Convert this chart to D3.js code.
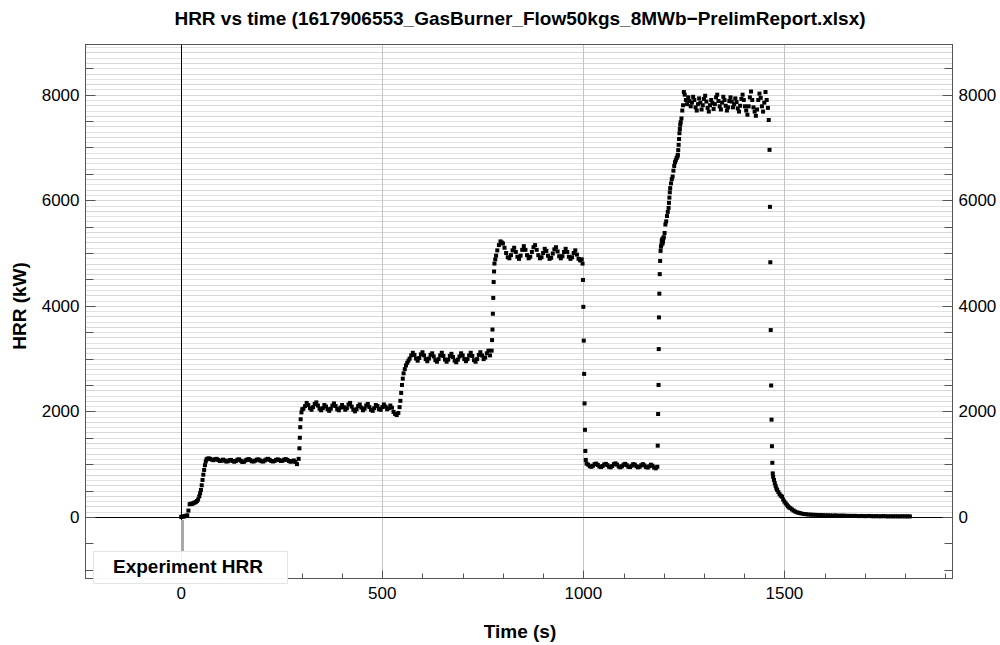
<!DOCTYPE html>
<html>
<head>
<meta charset="utf-8">
<script src="https://cdn.jsdelivr.net/npm/d3@7"></script>
<style>
  body { margin: 0; background: white; }
  text { font-family: "Liberation Sans", Arial, sans-serif; }
</style>
</head>
<body>
<div id="chart-area"></div>
<script>
// [time (s), HRR (kW)], one array per test phase
var rampUp1 = [[0,0],[3,10],[6,5],[9,15],[12,20],[15,30],[18,120],[21,240],[24,250],[27,245],[30,260],[33,270],[36,280],[39,300],[42,330],[45,390],[47,450],[49,510],[51,600],[53,700],[55,800],[57,890],[59,980],[61,1050],[63,1090],[65,1100]];
var plateau1 = [[68,1110],[72,1100],[76,1085],[80,1075],[84,1090],[88,1100],[92,1080],[96,1060],[100,1065],[104,1085],[108,1070],[112,1050],[116,1055],[120,1075],[124,1080],[128,1060],[132,1045],[136,1060],[140,1085],[144,1090],[148,1065],[152,1040],[156,1045],[160,1070],[164,1085],[168,1095],[172,1075],[176,1055],[180,1050],[184,1065],[188,1085],[192,1090],[196,1070],[200,1055],[204,1050],[208,1070],[212,1090],[216,1100],[220,1080],[224,1060],[228,1050],[232,1060],[236,1080],[240,1090],[244,1075],[248,1060],[252,1065],[256,1085],[260,1095],[264,1080],[268,1060],[272,1045],[276,1055],[280,1070],[284,1040],[288,1000]];
var step2 = [[292,1100],[294,1300],[295,1500],[296,1700],[297,1850],[299,1980],[301,2040]];
var plateau2 = [[304,2050],[308,2100],[312,2160],[316,2120],[320,2060],[324,2030],[328,2080],[332,2140],[336,2170],[340,2110],[344,2050],[348,2020],[352,2060],[356,2120],[360,2090],[364,2040],[368,2010],[372,2050],[376,2110],[380,2150],[384,2100],[388,2040],[392,2020],[396,2070],[400,2120],[404,2080],[408,2030],[412,2060],[416,2130],[420,2160],[424,2090],[428,2030],[432,2000],[436,2040],[440,2100],[444,2130],[448,2070],[452,2020],[456,2050],[460,2110],[464,2140],[468,2080],[472,2030],[476,2010],[480,2060],[484,2120],[488,2100],[492,2040],[496,2030],[500,2080],[504,2130],[508,2090],[512,2040],[516,2060],[520,2110],[524,2070],[528,1990],[532,1950],[536,1930],[540,1970]];
var step3 = [[543,2080],[545,2200],[547,2350],[549,2500],[551,2620],[553,2720],[556,2800],[559,2870],[562,2920],[565,2960]];
var plateau3 = [[568,3000],[572,3060],[576,3110],[580,3070],[584,3000],[588,2960],[592,3010],[596,3080],[600,3120],[604,3060],[608,2990],[612,2950],[616,3000],[620,3070],[624,3100],[628,3040],[632,2970],[636,2940],[640,2990],[644,3060],[648,3110],[652,3050],[656,2980],[660,2940],[664,2980],[668,3050],[672,3090],[676,3030],[680,2960],[684,2930],[688,2980],[692,3040],[696,3100],[700,3060],[704,2990],[708,2950],[712,2990],[716,3060],[720,3110],[724,3050],[728,2970],[732,2940],[736,2990],[740,3070],[744,3120],[748,3060],[752,2990],[756,3020],[760,3100],[764,3150],[768,3060]];
var step4 = [[772,3150],[773,3350],[774,3550],[775,3850],[776,4150],[777,4450],[778,4650],[779,4800],[781,4880],[783,4950],[786,5050],[790,5150],[794,5220],[797,5200]];
var plateau4 = [[800,5180],[804,5100],[808,5000],[812,4920],[816,4900],[820,4960],[824,5050],[828,5100],[832,5020],[836,4930],[840,4890],[844,4950],[848,5060],[852,5130],[856,5060],[860,4960],[864,4900],[868,4930],[872,5020],[876,5110],[880,5150],[884,5060],[888,4960],[892,4900],[896,4920],[900,5000],[904,5080],[908,5040],[912,4950],[916,4890],[920,4910],[924,4990],[928,5070],[932,5110],[936,5030],[940,4940],[944,4900],[948,4940],[952,5020],[956,5080],[960,5020],[964,4930],[968,4890],[972,4920],[976,5000],[980,5050],[984,4970],[988,4890],[992,4860],[996,4880]];
var drop1 = [[998,4800],[999,4490],[1000,3980],[1001,3340],[1002,2710],[1003,2150],[1004,1650],[1005,1250],[1006,1080]];
var plateau5 = [[1008,1010],[1012,990],[1016,960],[1020,950],[1024,970],[1028,1000],[1032,1010],[1036,985],[1040,955],[1044,945],[1048,965],[1052,995],[1056,1005],[1060,980],[1064,950],[1068,940],[1072,965],[1076,1000],[1080,1015],[1084,990],[1088,955],[1092,940],[1096,960],[1100,990],[1104,1005],[1108,980],[1112,950],[1116,945],[1120,970],[1124,1000],[1128,990],[1132,960],[1136,940],[1140,950],[1144,980],[1148,1000],[1152,975],[1156,945],[1160,935],[1164,960],[1168,990],[1172,970],[1176,935],[1180,920],[1184,950]];
var rampUp2 = [[1185,1350],[1186,1950],[1187,2500],[1187.5,3180],[1188,3780],[1189,4230],[1190,4600],[1191,4850],[1192,5040],[1193,5120],[1194,5150],[1195,5230],[1196,5260],[1197,5180],[1198,5220],[1199,5280],[1200,5300],[1202,5380],[1204,5540],[1206,5600],[1208,5700],[1210,5780],[1212,5855],[1213,5950],[1214,6050],[1215,6150],[1216,6230],[1218,6320],[1220,6400],[1222,6450],[1224,6560],[1226,6650],[1228,6720],[1230,6760],[1232,6800],[1234,6830],[1235,6860],[1236,6950],[1237,7050],[1238,7160],[1239,7270],[1240,7350],[1241,7430],[1242,7480],[1244,7550],[1246,7700],[1248,7800],[1250,8050]];
var plateau6 = [[1252,8000],[1255,7900],[1258,7820],[1261,7950],[1264,7880],[1267,7780],[1270,7850],[1273,7960],[1276,7900],[1279,7760],[1282,7700],[1285,7820],[1288,7930],[1291,7850],[1294,7720],[1297,7800],[1300,7920],[1303,7980],[1306,7870],[1309,7750],[1312,7680],[1315,7800],[1318,7900],[1321,7840],[1324,7730],[1327,7820],[1330,7950],[1333,8000],[1336,7880],[1339,7780],[1342,7720],[1345,7850],[1348,7960],[1351,7900],[1354,7790],[1357,7700],[1360,7760],[1363,7880],[1366,7950],[1369,7870],[1372,7760],[1375,7820],[1378,7930],[1381,7860],[1384,7740],[1387,7680],[1390,7790],[1393,7920],[1396,8000],[1399,7900],[1402,7780],[1405,7700],[1408,7620],[1411,7780],[1414,7950],[1417,8060],[1420,7900],[1423,7760],[1426,7680],[1429,7600],[1432,7720],[1435,7900],[1438,8020],[1441,7940],[1444,7780],[1447,7680],[1450,7850],[1453,8050],[1456,7900],[1459,7750]];
var drop2 = [[1461,7520],[1463,6955],[1464,5875],[1465,4825],[1466,3540],[1467,2490],[1468,1843],[1469,1340],[1470,1025],[1471,825],[1472,760],[1474,700],[1476,640],[1478,590],[1480,540],[1482,510],[1485,470],[1488,430],[1491,400],[1494,383],[1497,330],[1500,290],[1503,258],[1506,230],[1509,200],[1512,180],[1515,164],[1519,140],[1523,120],[1527,100],[1532,85],[1537,75],[1542,65]];
var tail = [[1548,55],[1554,50],[1560,45],[1566,42],[1572,40],[1578,38],[1584,35],[1590,35],[1596,32],[1602,30],[1608,30],[1614,28],[1620,25],[1626,28],[1632,25],[1638,22],[1644,25],[1650,22],[1656,20],[1662,20],[1668,18],[1674,20],[1680,18],[1686,15],[1692,18],[1698,15],[1704,15],[1710,18],[1716,15],[1722,12],[1728,15],[1734,12],[1740,12],[1746,15],[1752,12],[1758,10],[1764,12],[1770,10],[1776,12],[1782,10],[1788,10],[1794,12],[1800,10],[1806,10],[1812,10]];

var xTicks = [0, 500, 1000, 1500];
var yTicks = [0, 2000, 4000, 6000, 8000];

var data = [].concat(rampUp1, plateau1, step2, plateau2, step3, plateau3, step4, plateau4,
  drop1, plateau5, rampUp2, plateau6, drop2, tail);

var W = 1000, H = 645;
var frame = { left: 85.5, right: 952.5, top: 44.5, bottom: 578.5 };

var svg = d3.select("#chart-area")
  .append("svg")
  .attr("width", W)
  .attr("height", H);

var x = d3.scaleLinear().domain([-238, 1918]).range([frame.left, frame.right]);
var y = d3.scaleLinear().domain([-1167, 8951]).range([frame.bottom, frame.top]);

// horizontal grid every 100 kW, only above zero
svg.append("g")
  .selectAll("line")
  .data(d3.range(100, 8951, 100))
  .enter().append("line")
  .attr("x1", frame.left).attr("x2", frame.right)
  .attr("y1", d => Math.round(y(d)) + 0.5)
  .attr("y2", d => Math.round(y(d)) + 0.5)
  .attr("stroke", (d, i) => i % 2 ? "#d6d6d6" : "#e2e2e2");

// vertical grid
svg.append("g")
  .selectAll("line")
  .data(xTicks.slice(1))
  .enter().append("line")
  .attr("x1", d => Math.round(x(d)) + 0.5)
  .attr("x2", d => Math.round(x(d)) + 0.5)
  .attr("y1", frame.top).attr("y2", frame.bottom)
  .attr("stroke", "#c4c4c4");

// axes through the origin
svg.append("line")
  .attr("x1", frame.left).attr("x2", frame.right)
  .attr("y1", Math.round(y(0)) + 0.5).attr("y2", Math.round(y(0)) + 0.5)
  .attr("stroke", "black");
svg.append("line")
  .attr("x1", Math.round(x(0)) + 0.5).attr("x2", Math.round(x(0)) + 0.5)
  .attr("y1", frame.top).attr("y2", frame.bottom)
  .attr("stroke", "black");
svg.append("rect")
  .attr("x", Math.round(x(0)))
  .attr("y", y(0) + 3)
  .attr("width", 3)
  .attr("height", 32)
  .attr("fill", "#a8a8a8");

// frame ticks
var minorY = d3.range(-1000, 8951, 500);
var tg = svg.append("g").attr("stroke", "#555");
tg.selectAll(".yl").data(minorY).enter().append("line")
  .attr("x1", frame.left).attr("x2", d => frame.left + (d % 2000 === 0 ? 10 : 8))
  .attr("y1", d => Math.round(y(d)) + 0.5).attr("y2", d => Math.round(y(d)) + 0.5);
tg.selectAll(".yr").data(minorY).enter().append("line")
  .attr("x1", frame.right).attr("x2", d => frame.right - (d % 2000 === 0 ? 10 : 8))
  .attr("y1", d => Math.round(y(d)) + 0.5).attr("y2", d => Math.round(y(d)) + 0.5);
tg.selectAll(".xb").data(d3.range(-200, 1901, 100)).enter().append("line")
  .attr("x1", d => Math.round(x(d)) + 0.5).attr("x2", d => Math.round(x(d)) + 0.5)
  .attr("y1", frame.bottom).attr("y2", d => frame.bottom - (d % 500 === 0 ? 8 : 5));

// frame
svg.append("rect")
  .attr("x", frame.left).attr("y", frame.top)
  .attr("width", frame.right - frame.left).attr("height", frame.bottom - frame.top)
  .attr("fill", "none")
  .attr("stroke", "#555");

// data markers
svg.append("g")
  .selectAll("rect")
  .data(data)
  .enter().append("rect")
  .attr("x", d => x(d[0]) - 2)
  .attr("y", d => y(d[1]) - 2)
  .attr("width", 4)
  .attr("height", 4)
  .attr("fill", "black");

// tick labels
svg.selectAll(".ylab").data(yTicks).enter().append("text")
  .attr("x", frame.left - 6).attr("y", d => y(d))
  .attr("dy", "0.36em")
  .attr("text-anchor", "end")
  .attr("font-size", "17px")
  .text(d => d);
svg.selectAll(".yrlab").data(yTicks).enter().append("text")
  .attr("x", frame.right + 6).attr("y", d => y(d))
  .attr("dy", "0.36em")
  .attr("font-size", "17px")
  .text(d => d);
svg.selectAll(".xlab").data(xTicks).enter().append("text")
  .attr("x", d => x(d)).attr("y", 599)
  .attr("text-anchor", "middle")
  .attr("font-size", "17px")
  .text(d => d);

// legend
svg.append("rect")
  .attr("x", 93.5).attr("y", 551.5)
  .attr("width", 194).attr("height", 32)
  .attr("fill", "white")
  .attr("fill-opacity", 0.95)
  .attr("stroke", "#e4e4e4");
svg.append("text")
  .attr("x", 113).attr("y", 573)
  .attr("font-size", "19px")
  .attr("font-weight", "bold")
  .text("Experiment HRR");

// titles
svg.append("text")
  .attr("x", 520).attr("y", 25)
  .attr("text-anchor", "middle")
  .attr("font-size", "19px")
  .attr("font-weight", "bold")
  .text("HRR vs time (1617906553_GasBurner_Flow50kgs_8MWb\u2212PrelimReport.xlsx)");
svg.append("text")
  .attr("x", 520).attr("y", 638)
  .attr("text-anchor", "middle")
  .attr("font-size", "19px")
  .attr("font-weight", "bold")
  .text("Time (s)");
svg.append("text")
  .attr("transform", "translate(26,306) rotate(-90)")
  .attr("text-anchor", "middle")
  .attr("font-size", "19px")
  .attr("font-weight", "bold")
  .text("HRR (kW)");
</script>
</body>
</html>
